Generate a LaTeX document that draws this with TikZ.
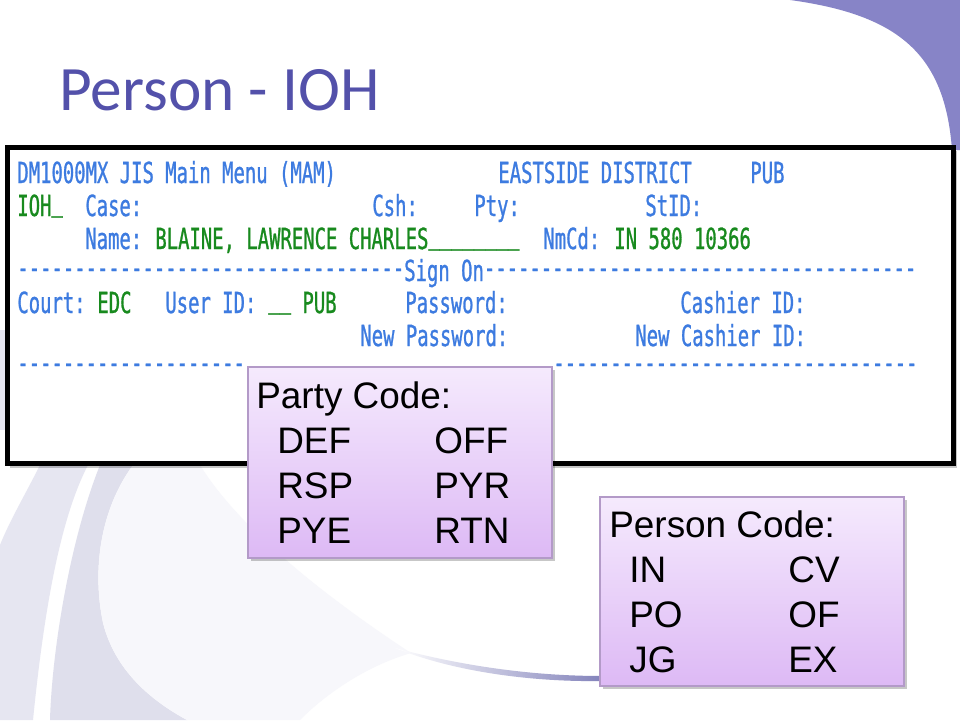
\documentclass[tikz,border=0pt]{standalone}
\usepackage{fontspec}
\setmainfont{Liberation Sans}
\newfontfamily\titlefont{Carlito}
\newfontfamily\termfont[FakeStretch=0.652,FakeBold=0.9,Ligatures=TeXOff]{DejaVu Sans Mono}
\usetikzlibrary{positioning}
\usepackage{xcolor}

\definecolor{titleblue}{HTML}{5351AA}
\definecolor{slidepurple}{HTML}{8784C7}
\definecolor{termblue}{HTML}{3D7BE0}
\definecolor{termgreen}{HTML}{188A1E}
\definecolor{boxtop}{HTML}{F5EAFD}
\definecolor{boxbottom}{HTML}{DDB9F5}
\definecolor{boxline}{HTML}{B39AC8}
\definecolor{bandlight}{HTML}{E6E6F1}
\definecolor{bandmid}{HTML}{DFDFEC}
\definecolor{bandfaint}{HTML}{F7F7FB}
\definecolor{swooshblue}{HTML}{8383BB}

\newcommand{\ubar}{\raisebox{3pt}{\_}}
\newcommand{\tdash}{\raisebox{1.8pt}{-}}

\begin{document}
\begin{tikzpicture}[x=0.02cm,y=-0.02cm,
  term/.style={anchor=base west, inner sep=0pt, font=\termfont\fontsize{16.5pt}{16.5pt}\selectfont},
  blueterm/.style={term, text=termblue},
  greenterm/.style={term, text=termgreen},
  codetext/.style={anchor=base west, inner sep=0pt, font=\fontsize{21pt}{21pt}\selectfont},
  codebox/.style={top color=boxtop, bottom color=boxbottom, draw=boxline, line width=0.6pt},
  boxshadow/.style={fill=black, opacity=0.22}]

\fill[white] (0,0) rectangle (960,720);
\useasboundingbox (0,0) rectangle (960,720);

% background swooshes
\fill[slidepurple] (790,0) .. controls (900,15) and (945,55) .. (952,150) -- (960,150) -- (960,0) -- cycle;

\fill[bandlight] (0,330) -- (8,330) -- (8,430) -- (0,430) -- cycle;
\fill[bandlight] (40,465) .. controls (25,495) and (10,520) .. (0,545) -- (0,720) -- (33,720) .. controls (45,600) and (62,515) .. (88,465) -- cycle;
\fill[bandmid] (50,720) .. controls (52,650) and (70,540) .. (100,465) -- (133,465) .. controls (100,510) and (92,570) .. (103,623) .. controls (115,670) and (150,700) .. (187,720) -- cycle;
\fill[bandfaint] (133,465) .. controls (100,510) and (92,570) .. (103,623) .. controls (115,670) and (150,700) .. (187,720) -- (300,720) .. controls (330,690) and (370,665) .. (411,653) .. controls (330,600) and (240,530) .. (200,465) -- cycle;
\shade[left color=white, right color=swooshblue] (395,648) .. controls (470,668) and (540,676) .. (602,676) -- (602,681) .. controls (540,682) and (460,674) .. (395,648) -- cycle;

% title
\node[anchor=base west, inner sep=0pt, text=titleblue, font=\titlefont\fontsize{36pt}{36pt}\selectfont] (title) at (59,110) {Person - IOH};

% screen
\fill[boxshadow] (10,151) rectangle (957,468);
\filldraw[fill=white, draw=black, line width=0.1cm] (7.5,147.5) rectangle (953,463);

\node[blueterm] (menu) at (17,183) {DM1000MX JIS Main Menu (MAM)};
\node[blueterm] (district) at (498,183) {EASTSIDE DISTRICT};
\node[blueterm] (pub) at (750,183) {PUB};

\node[greenterm] (ioh) at (17,216) {IOH\ubar};
\node[blueterm] (case) at (85,216) {Case:};
\node[blueterm] (csh) at (372,216) {Csh:};
\node[blueterm] (pty) at (474,216) {Pty:};
\node[blueterm] (stid) at (645,216) {StID:};

\node[blueterm] (name) at (85,249) {Name:};
\node[greenterm] (pname) at (155,249) {BLAINE, LAWRENCE CHARLES\ubar\ubar\ubar\ubar\ubar\ubar\ubar\ubar};
\node[blueterm] (nmcd) at (543,249) {NmCd:};
\node[greenterm] (nmval) at (614,249) {IN 580 10366};

\node[blueterm] (signon) at (17,281) {\foreach \k in {1,...,34}{\tdash}Sign On\foreach \k in {1,...,38}{\tdash}};

\node[blueterm] (court) at (17,313) {Court:};
\node[greenterm] (edc) at (97,313) {EDC};
\node[blueterm] (userid) at (165,313) {User ID:};
\node[greenterm] (uid) at (268,313) {\ubar\ubar{} PUB};
\node[blueterm] (passwd) at (405,313) {Password:};
\node[blueterm] (cashier) at (680,313) {Cashier ID:};

\node[blueterm] (newpass) at (360,346) {New Password:};
\node[blueterm] (newcash) at (635,346) {New Cashier ID:};

\node[blueterm] (ruleleft) at (17,376) {\foreach \k in {1,...,20}{\tdash}};
\node[blueterm] (ruleright) at (553,376) {\foreach \k in {1,...,32}{\tdash}};

% party code
\fill[boxshadow] (251,370) rectangle (555,561);
\shadedraw[codebox] (248,367) rectangle (552,558);

\node[codetext] (party) at (256,408) {Party Code:};
\node[codetext] (def) at (277,453) {DEF};
\node[codetext] (off) at (434,453) {OFF};
\node[codetext] (rsp) at (277,498) {RSP};
\node[codetext] (pyr) at (434,498) {PYR};
\node[codetext] (pye) at (277,543) {PYE};
\node[codetext] (rtn) at (434,543) {RTN};

% person code
\fill[boxshadow] (603,500) rectangle (907,689);
\shadedraw[codebox] (600,497) rectangle (904,686);

\node[codetext] (person) at (609,537) {Person Code:};
\node[codetext] (in) at (629,582) {IN};
\node[codetext] (cv) at (788,582) {CV};
\node[codetext] (po) at (629,627) {PO};
\node[codetext] (of) at (788,627) {OF};
\node[codetext] (jg) at (629,672) {JG};
\node[codetext] (ex) at (788,672) {EX};

\end{tikzpicture}
\end{document}
